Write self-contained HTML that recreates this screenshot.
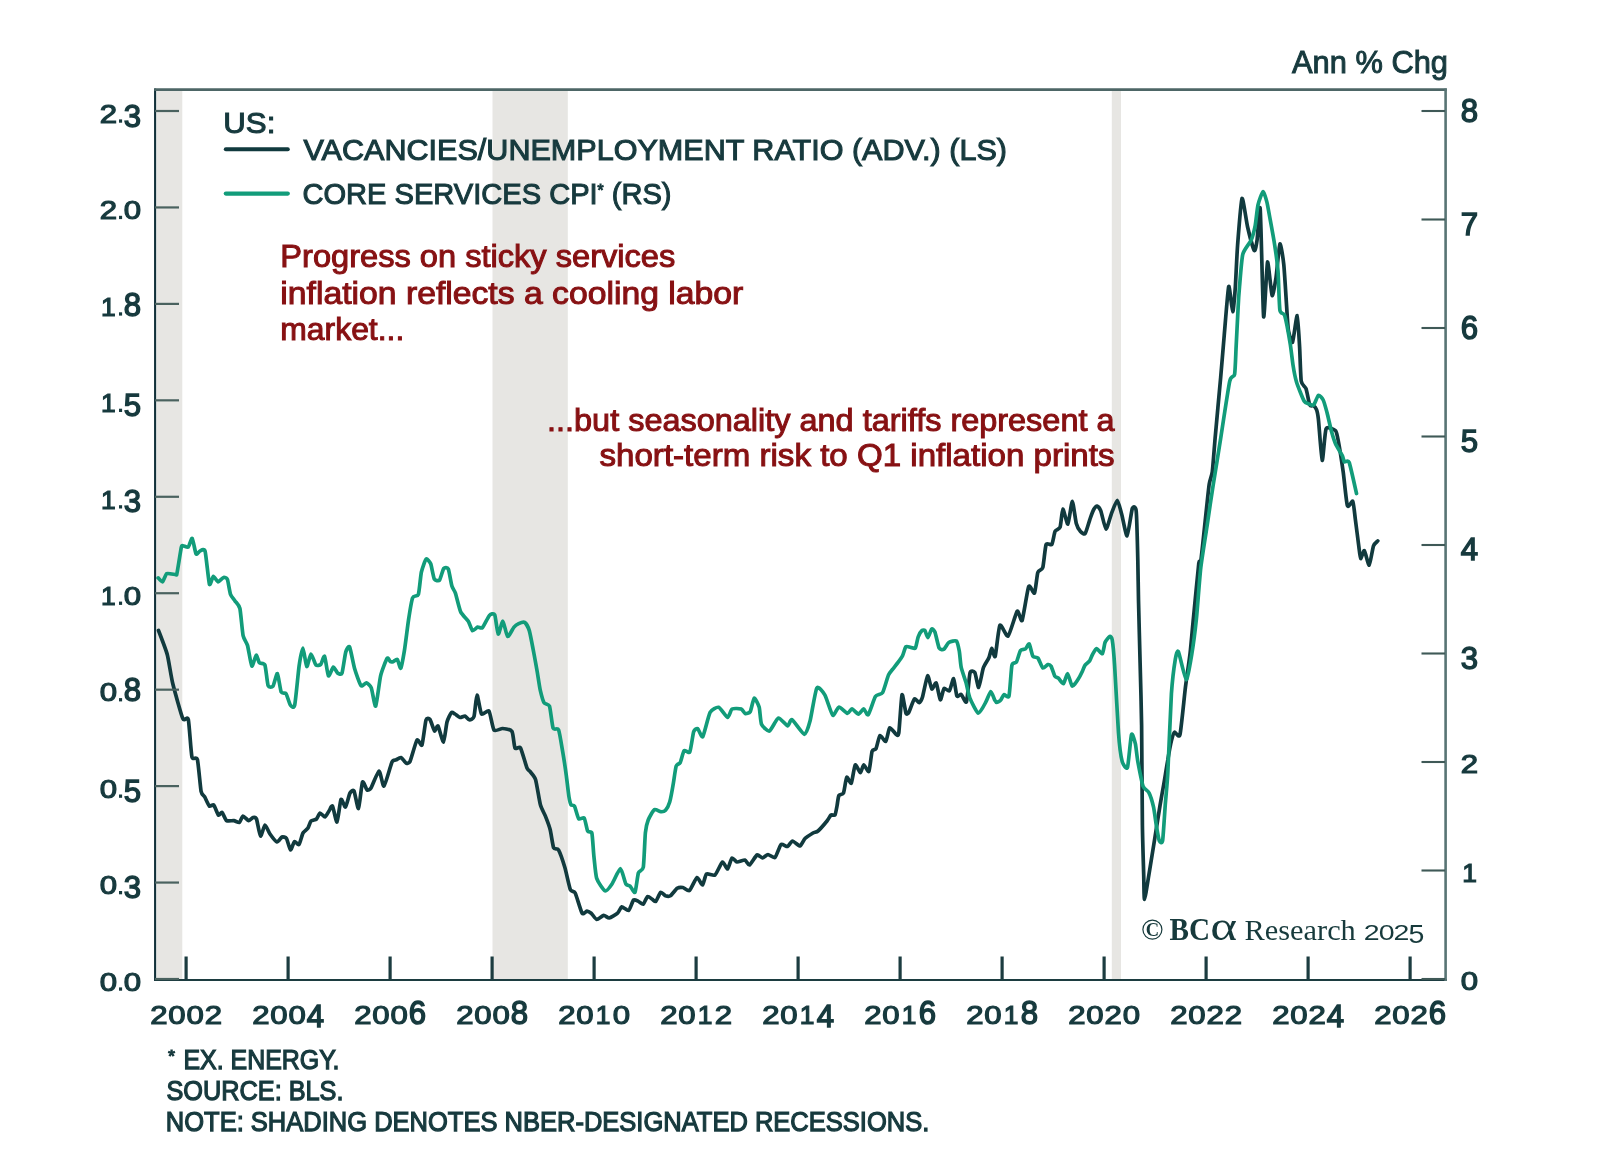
<!DOCTYPE html>
<html><head><meta charset="utf-8"><style>
html,body{margin:0;padding:0;background:#fff;}
body{width:1600px;height:1151px;overflow:hidden;}
svg{display:block;will-change:transform;}
text{font-family:"Liberation Sans",sans-serif;fill:#173a3e;}
.ax{font-size:26.4px;stroke:#173a3e;stroke-width:1.2px;}
.hd{font-size:31.5px;stroke:#173a3e;stroke-width:1.0px;}
.lg{font-size:30px;stroke:#173a3e;stroke-width:1.1px;}
.rd{font-size:30.5px;fill:#871113;stroke:#871113;stroke-width:1.0px;}
.fn{font-size:27px;stroke:#173a3e;stroke-width:1.25px;}
.lo{font-family:"Liberation Serif",serif;font-size:29px;fill:#173a3c;}
.lo2{font-size:21.3px;fill:#173a3c;}
</style></head><body>
<svg width="1600" height="1151" viewBox="0 0 1600 1151">
<rect x="0" y="0" width="1600" height="1151" fill="#ffffff"/>
<rect x="156.5" y="90" width="25.80000000000001" height="889" fill="#e7e6e3"/>
<rect x="492.5" y="90" width="75.29999999999995" height="889" fill="#e7e6e3"/>
<rect x="1111.8" y="90" width="9.200000000000045" height="889" fill="#e7e6e3"/>
<path d="M158.5,630.5 C159.4,632.9 165.9,649.4 167.3,654.7 C168.7,660.0 171.2,677.4 172.8,683.8 C174.4,690.2 181.2,714.9 182.8,718.5 C184.4,722.1 187.4,715.6 188.3,719.4 C189.2,723.2 191.0,752.8 191.9,756.8 C192.8,760.8 196.5,756.0 197.4,759.5 C198.3,763.0 200.4,787.7 201.1,791.4 C201.8,795.1 203.9,795.4 204.7,796.9 C205.5,798.4 208.4,805.2 209.3,806.0 C210.2,806.8 212.9,804.2 213.8,805.1 C214.7,806.0 217.6,814.4 218.4,815.1 C219.2,815.8 221.2,811.9 222.0,812.4 C222.8,812.9 225.4,819.8 226.6,820.6 C227.8,821.4 232.6,820.4 233.9,820.6 C235.2,820.8 238.5,822.9 239.4,822.4 C240.3,821.9 242.1,816.3 243.0,816.1 C243.9,815.9 247.5,820.5 248.5,820.6 C249.5,820.7 252.2,817.7 253.0,817.5 C253.8,817.3 255.8,817.1 256.5,819.0 C257.2,820.9 259.6,835.4 260.5,836.0 C261.4,836.6 264.1,825.2 265.0,825.0 C265.9,824.8 268.8,832.3 270.0,834.0 C271.2,835.7 275.8,841.7 277.0,842.0 C278.2,842.3 281.1,837.4 282.0,837.0 C282.9,836.6 285.6,837.2 286.5,838.5 C287.4,839.8 289.7,849.7 290.5,850.0 C291.3,850.3 293.6,842.0 294.5,841.5 C295.4,841.0 298.1,845.4 299.0,844.5 C299.9,843.6 302.1,834.6 303.0,833.0 C303.9,831.4 307.2,829.2 308.0,828.0 C308.8,826.8 310.1,821.9 311.0,821.0 C311.9,820.1 315.6,819.8 316.5,819.0 C317.4,818.2 319.1,813.2 320.0,813.0 C320.9,812.8 324.1,817.2 325.0,817.0 C325.9,816.8 328.2,812.1 329.0,811.0 C329.8,809.9 331.7,804.9 332.5,806.0 C333.3,807.1 336.1,822.6 337.0,822.0 C337.9,821.4 340.1,801.0 341.0,799.5 C341.9,798.0 344.6,807.6 345.5,807.0 C346.4,806.4 349.1,794.6 350.0,793.0 C350.9,791.4 353.1,789.5 354.0,791.0 C354.9,792.5 357.6,809.4 358.5,808.5 C359.4,807.6 361.6,783.9 362.5,782.0 C363.4,780.1 366.1,789.4 367.0,790.0 C367.9,790.6 369.8,789.9 371.0,788.0 C372.2,786.1 377.7,771.2 379.0,771.0 C380.3,770.8 382.7,786.9 384.0,786.0 C385.3,785.1 390.8,764.6 392.0,762.0 C393.2,759.4 395.1,760.5 396.0,760.0 C396.9,759.5 400.0,757.2 401.0,757.5 C402.0,757.8 405.1,762.6 406.0,763.0 C406.9,763.4 408.9,763.8 410.0,761.5 C411.1,759.2 415.8,741.6 417.0,740.0 C418.2,738.4 421.1,747.0 422.0,745.0 C422.9,743.0 425.2,722.5 426.0,720.0 C426.8,717.5 429.1,718.4 430.0,719.5 C430.9,720.6 433.7,730.4 434.5,731.0 C435.3,731.6 437.1,724.9 438.0,726.0 C438.9,727.1 442.6,742.4 443.5,742.0 C444.4,741.6 446.2,725.0 447.0,722.0 C447.8,719.0 450.7,713.3 451.5,712.5 C452.3,711.7 454.1,713.5 455.0,714.0 C455.9,714.5 459.0,717.3 460.0,717.5 C461.0,717.7 464.1,715.8 465.0,716.0 C465.9,716.2 468.6,720.0 469.5,720.0 C470.4,720.0 473.2,719.0 474.0,716.5 C474.8,714.0 476.2,695.2 477.0,695.0 C477.8,694.8 480.3,712.4 481.5,714.0 C482.7,715.6 487.8,709.4 489.0,711.0 C490.2,712.6 492.6,728.2 494.0,730.0 C495.4,731.8 500.7,728.4 502.5,728.5 C504.3,728.6 510.8,729.5 512.0,731.5 C513.2,733.5 514.1,746.4 515.0,748.0 C515.9,749.6 519.3,746.0 520.5,748.0 C521.7,750.0 526.0,765.7 527.0,768.0 C528.0,770.3 529.1,770.2 530.0,771.4 C530.9,772.6 534.6,776.4 535.6,779.7 C536.6,783.0 539.4,801.2 540.4,804.8 C541.4,808.4 544.3,813.4 545.3,815.9 C546.3,818.4 549.4,826.6 550.2,829.8 C551.0,833.0 552.8,845.8 553.6,847.8 C554.4,849.8 557.4,847.9 558.5,849.9 C559.6,851.9 563.6,863.3 564.8,867.3 C566.0,871.3 569.3,886.9 570.3,889.5 C571.3,892.1 574.0,890.6 575.2,893.0 C576.4,895.4 580.9,911.4 582.1,913.2 C583.3,915.0 586.1,911.1 587.0,911.1 C587.9,911.1 590.2,912.4 591.2,913.2 C592.2,914.0 595.5,919.2 596.7,919.4 C598.0,919.6 602.5,915.4 603.7,915.3 C605.0,915.2 607.8,918.2 609.2,918.0 C610.6,917.8 616.4,914.3 617.6,913.2 C618.9,912.1 620.6,907.2 621.7,906.9 C622.8,906.6 627.5,911.1 628.7,910.4 C629.9,909.7 632.6,900.9 633.6,900.0 C634.6,899.1 637.4,901.0 638.4,901.4 C639.4,901.8 642.4,904.6 643.3,904.1 C644.2,903.6 646.6,897.0 647.5,896.5 C648.4,896.0 651.5,898.8 652.3,899.3 C653.1,899.8 655.0,902.1 655.8,901.4 C656.6,900.7 659.7,892.9 660.7,892.3 C661.7,891.7 664.5,895.4 665.5,895.8 C666.5,896.1 669.2,896.6 670.4,895.8 C671.6,895.0 676.0,889.0 677.3,888.2 C678.5,887.4 681.7,887.3 682.9,887.5 C684.1,887.7 688.1,891.5 689.5,890.5 C690.9,889.5 695.7,878.0 697.0,877.5 C698.3,877.0 701.5,885.4 702.5,885.0 C703.5,884.6 705.2,875.0 706.5,874.0 C707.8,873.0 713.4,876.2 715.0,875.0 C716.6,873.8 721.2,862.6 722.5,862.0 C723.8,861.4 726.5,869.4 727.5,869.0 C728.5,868.6 731.0,858.7 732.0,858.0 C733.0,857.3 735.7,861.8 737.0,862.0 C738.3,862.2 743.8,859.7 745.0,860.0 C746.2,860.3 748.3,865.5 749.5,865.0 C750.7,864.5 755.7,855.7 757.0,855.0 C758.3,854.3 761.4,858.0 762.5,858.0 C763.6,858.0 766.8,854.5 768.0,854.5 C769.2,854.5 773.7,858.5 775.0,857.5 C776.3,856.5 779.8,845.6 781.0,844.5 C782.2,843.4 786.4,846.9 787.5,846.5 C788.6,846.1 791.2,841.0 792.5,841.0 C793.8,841.0 798.8,846.2 800.0,846.0 C801.2,845.8 803.7,839.8 805.0,838.5 C806.3,837.2 811.7,833.8 813.0,833.0 C814.3,832.2 816.6,832.2 818.0,831.0 C819.4,829.8 825.7,822.6 827.0,821.0 C828.3,819.4 830.2,815.6 831.0,815.0 C831.8,814.4 834.4,815.9 835.0,815.0 C835.6,814.1 836.6,808.0 837.0,806.0 C837.4,804.0 838.2,796.8 838.9,795.5 C839.5,794.2 842.7,794.7 843.5,792.9 C844.3,791.1 845.9,778.3 846.7,777.3 C847.5,776.3 850.4,784.3 851.3,783.1 C852.1,781.9 854.3,765.9 855.2,764.9 C856.1,763.9 859.5,772.7 860.4,772.7 C861.2,772.7 862.9,765.0 863.7,764.9 C864.6,764.8 868.1,772.8 868.9,771.4 C869.7,770.0 871.4,753.5 872.1,751.2 C872.8,748.9 875.2,750.2 876.0,748.6 C876.8,747.0 879.0,736.3 880.0,735.6 C881.0,734.9 884.8,742.2 885.8,741.4 C886.8,740.6 888.7,728.5 889.7,727.8 C890.7,727.1 895.3,733.8 896.2,734.3 C897.1,734.8 898.2,737.0 898.8,733.0 C899.4,729.0 901.3,696.8 902.0,694.8 C902.7,692.8 905.3,711.6 906.0,713.3 C906.7,715.0 908.2,713.4 909.0,712.0 C909.8,710.6 913.4,699.8 914.4,698.9 C915.4,698.0 918.4,702.9 919.2,702.7 C920.0,702.5 921.7,699.7 922.5,697.0 C923.3,694.3 926.7,676.6 927.6,675.8 C928.5,675.0 930.9,688.3 931.8,689.0 C932.7,689.7 935.4,681.9 936.2,683.0 C937.1,684.1 939.5,699.2 940.3,699.8 C941.1,700.3 943.1,689.4 944.0,688.5 C944.9,687.6 948.4,691.8 949.4,690.8 C950.4,689.8 952.9,678.1 953.6,678.6 C954.4,679.1 956.1,694.4 956.9,696.0 C957.7,697.6 960.3,693.9 961.3,694.5 C962.3,695.1 965.6,703.9 966.5,701.7 C967.4,699.6 969.2,675.9 970.0,673.0 C970.8,670.1 973.9,671.1 974.8,672.5 C975.7,673.9 977.9,687.9 978.7,687.4 C979.6,686.9 982.3,671.0 983.3,668.0 C984.3,665.0 988.1,659.8 988.9,657.8 C989.7,655.8 991.1,648.4 991.7,648.3 C992.3,648.1 994.4,658.6 995.2,656.3 C996.0,654.0 998.6,627.3 999.9,625.3 C1001.2,623.3 1006.4,637.4 1008.1,636.0 C1009.8,634.6 1015.8,612.9 1017.2,611.3 C1018.6,609.7 1021.0,622.9 1022.1,620.4 C1023.2,617.9 1027.5,589.2 1028.7,586.5 C1029.9,583.8 1033.6,594.5 1034.5,593.1 C1035.4,591.7 1037.0,575.0 1037.8,572.5 C1038.6,570.0 1042.0,570.4 1042.8,567.6 C1043.6,564.8 1045.2,546.8 1046.1,544.5 C1047.0,542.2 1050.9,545.8 1051.8,544.5 C1052.7,543.2 1054.3,533.0 1055.1,531.3 C1055.9,529.6 1059.3,529.3 1060.1,527.1 C1060.9,524.9 1062.1,509.4 1062.9,509.1 C1063.7,508.8 1067.0,524.9 1067.9,524.1 C1068.8,523.3 1071.5,501.5 1072.3,501.4 C1073.1,501.3 1075.5,520.5 1076.3,523.5 C1077.1,526.5 1079.6,530.5 1080.5,531.5 C1081.4,532.5 1084.2,534.9 1085.2,533.5 C1086.2,532.1 1089.5,520.2 1090.4,517.8 C1091.3,515.3 1093.3,510.2 1094.0,509.0 C1094.7,507.8 1096.3,505.8 1097.0,506.0 C1097.7,506.2 1099.9,508.6 1100.8,510.9 C1101.7,513.2 1105.0,528.8 1106.0,529.1 C1107.0,529.4 1110.1,517.2 1111.2,514.3 C1112.3,511.4 1116.2,500.4 1117.3,500.4 C1118.3,500.4 1120.7,510.8 1121.7,514.3 C1122.7,517.8 1126.0,536.4 1127.1,535.8 C1128.2,535.2 1131.4,511.0 1132.3,508.5 C1133.2,506.0 1135.7,506.0 1136.2,511.1 C1136.8,516.2 1137.6,551.1 1137.8,560.0 C1138.0,568.9 1138.3,589.7 1138.5,600.0 C1138.7,610.3 1139.8,650.1 1140.1,662.6 C1140.4,675.1 1141.4,708.9 1141.6,725.2 C1141.8,741.5 1142.2,810.2 1142.4,825.2 C1142.6,840.2 1143.5,867.3 1143.7,874.7 C1143.9,882.1 1144.0,899.5 1144.5,899.5 C1145.0,899.5 1147.9,880.8 1148.9,874.7 C1149.9,868.6 1153.7,845.1 1154.8,838.2 C1155.9,831.3 1159.1,811.1 1160.0,805.6 C1160.9,800.1 1163.1,788.1 1163.9,783.5 C1164.7,778.9 1167.0,764.3 1167.8,760.0 C1168.5,755.7 1170.7,743.6 1171.4,740.8 C1172.1,738.0 1173.6,732.8 1174.5,732.2 C1175.4,731.6 1178.9,739.0 1180.0,734.5 C1181.1,730.0 1184.4,695.7 1185.4,687.6 C1186.4,679.5 1189.3,660.2 1190.1,653.2 C1190.9,646.2 1192.6,626.5 1193.5,617.5 C1194.4,608.5 1198.1,568.9 1198.8,563.3 C1199.5,557.7 1200.1,566.3 1200.8,561.3 C1201.5,556.3 1205.2,521.0 1206.0,513.3 C1206.8,505.6 1208.6,488.4 1209.2,484.2 C1209.8,480.0 1211.7,476.3 1212.3,471.7 C1212.9,467.1 1214.3,447.8 1215.1,438.3 C1215.9,428.9 1219.8,387.5 1220.7,377.2 C1221.6,366.9 1223.4,344.7 1224.2,335.6 C1225.0,326.5 1227.9,288.9 1228.7,286.5 C1229.5,284.1 1232.0,311.4 1232.7,311.7 C1233.4,311.9 1234.7,295.7 1235.2,289.0 C1235.7,282.3 1236.9,254.2 1237.6,245.1 C1238.3,236.0 1241.0,200.3 1242.0,198.5 C1243.0,196.7 1246.4,221.8 1247.6,227.0 C1248.8,232.2 1253.3,249.2 1254.3,250.5 C1255.2,251.8 1256.5,244.1 1257.1,239.9 C1257.7,235.7 1259.5,201.0 1260.2,208.7 C1260.9,216.4 1262.9,311.2 1263.6,316.5 C1264.3,321.8 1266.7,264.2 1267.5,262.1 C1268.3,260.0 1271.2,293.9 1272.1,295.5 C1272.9,297.1 1275.2,282.8 1276.0,277.7 C1276.8,272.6 1279.1,245.3 1279.9,244.0 C1280.7,242.7 1283.0,257.1 1283.8,264.7 C1284.6,272.3 1287.0,313.3 1287.5,320.0 C1288.0,326.7 1288.1,329.1 1288.6,331.3 C1289.1,333.5 1291.6,343.9 1292.5,342.3 C1293.4,340.7 1296.5,315.1 1297.2,315.6 C1297.9,316.1 1299.2,340.4 1299.6,346.9 C1300.0,353.4 1300.6,376.8 1301.2,381.0 C1301.8,385.2 1305.1,386.3 1306.0,388.7 C1306.9,391.1 1309.0,403.3 1309.8,405.0 C1310.6,406.7 1313.0,405.3 1313.7,405.8 C1314.4,406.3 1316.0,408.4 1316.5,409.7 C1317.0,411.0 1317.8,414.1 1318.4,419.2 C1319.0,424.3 1321.4,459.3 1322.2,460.3 C1323.0,461.3 1324.8,431.8 1326.1,428.8 C1327.4,425.8 1334.4,429.4 1335.6,430.7 C1336.8,432.0 1337.7,438.0 1338.5,442.1 C1339.3,446.2 1342.3,465.6 1343.2,472.0 C1344.1,478.4 1346.4,502.8 1347.4,505.7 C1348.4,508.6 1352.0,500.1 1352.8,501.4 C1353.6,502.7 1354.7,514.4 1355.3,519.0 C1355.9,523.6 1358.4,543.0 1358.9,547.0 C1359.4,551.0 1360.2,558.1 1360.7,558.5 C1361.2,558.9 1363.6,549.9 1364.4,550.6 C1365.2,551.3 1368.3,565.7 1369.2,565.2 C1370.1,564.7 1372.6,548.2 1373.5,545.8 C1374.4,543.4 1377.4,541.4 1377.8,540.9" fill="none" stroke="#113a3e" stroke-width="3.7" stroke-linejoin="round" stroke-linecap="round"/>
<path d="M158.2,577.9 C158.6,578.3 161.6,582.2 162.5,581.8 C163.4,581.4 165.5,574.3 166.8,573.6 C168.1,572.9 174.8,574.7 175.8,574.7 C176.8,574.7 176.4,575.9 177.0,573.2 C177.6,570.5 180.7,550.1 181.3,547.4 C181.9,544.7 182.5,545.8 183.2,545.8 C183.9,545.8 187.4,547.7 188.3,547.0 C189.2,546.3 191.4,537.7 192.2,538.4 C193.0,539.1 195.3,552.8 196.1,554.0 C196.9,555.2 199.1,551.2 200.0,550.9 C200.9,550.6 204.2,548.0 205.1,551.3 C206.0,554.6 208.6,581.6 209.4,584.1 C210.2,586.6 212.4,576.5 213.3,576.3 C214.2,576.1 217.0,581.7 218.0,581.8 C219.0,581.9 222.6,577.7 223.5,577.5 C224.4,577.3 226.7,577.7 227.4,579.4 C228.1,581.1 229.7,592.1 230.5,594.3 C231.3,596.4 234.1,599.5 235.0,600.9 C235.9,602.3 239.1,605.0 239.9,608.5 C240.7,612.0 242.3,631.9 243.1,635.6 C243.9,639.3 246.6,642.4 247.5,645.4 C248.4,648.4 250.9,665.0 251.8,666.0 C252.7,667.0 255.4,655.5 256.2,655.2 C257.0,654.9 258.5,661.8 259.4,662.8 C260.3,663.8 264.0,662.7 264.9,665.0 C265.8,667.3 267.3,683.5 268.1,685.6 C268.9,687.7 272.1,687.3 273.0,686.1 C273.9,684.9 276.6,673.0 277.4,673.6 C278.2,674.2 280.3,690.1 281.2,692.1 C282.1,694.1 285.2,692.4 286.1,693.7 C287.0,695.0 289.5,704.0 290.4,705.1 C291.3,706.2 293.8,709.0 294.7,705.1 C295.6,701.2 298.3,671.7 299.1,666.0 C299.9,660.3 302.1,648.0 302.9,648.1 C303.7,648.2 305.9,666.0 306.7,666.6 C307.5,667.2 310.1,654.3 311.0,654.1 C311.9,653.9 314.9,664.0 315.9,665.0 C316.9,666.0 319.9,665.3 320.8,664.4 C321.7,663.5 323.8,655.2 324.6,656.3 C325.4,657.4 327.5,674.7 328.4,675.8 C329.3,676.9 332.4,667.4 333.3,667.1 C334.2,666.8 336.8,672.5 337.7,673.1 C338.6,673.7 341.2,675.2 342.0,673.1 C342.8,671.0 345.0,654.5 345.8,651.9 C346.6,649.3 348.7,645.4 349.6,647.0 C350.5,648.6 353.4,664.3 354.5,668.2 C355.6,672.1 359.8,684.1 361.0,685.6 C362.2,687.1 365.4,682.7 366.4,682.9 C367.4,683.1 370.4,685.5 371.3,687.8 C372.2,690.1 374.8,707.4 375.7,706.2 C376.6,705.0 379.5,680.6 380.6,675.8 C381.7,671.0 386.1,659.8 387.1,658.4 C388.1,657.0 389.7,661.4 390.3,661.7 C390.9,662.0 392.5,661.9 393.2,661.7 C393.9,661.5 396.5,658.8 397.3,659.4 C398.1,660.0 400.1,669.1 400.8,668.2 C401.5,667.3 403.6,655.4 404.4,650.6 C405.2,645.8 407.7,625.4 408.5,620.1 C409.3,614.8 411.6,600.4 412.6,597.8 C413.6,595.2 417.5,596.9 418.4,594.3 C419.3,591.7 420.6,575.5 421.4,572.0 C422.2,568.5 425.2,559.9 426.1,559.1 C427.0,558.3 429.9,561.8 430.7,563.8 C431.5,565.8 433.4,577.4 434.3,579.0 C435.2,580.6 438.6,581.2 439.5,580.2 C440.4,579.2 442.8,569.6 443.7,568.5 C444.6,567.4 447.5,567.2 448.3,569.0 C449.1,570.8 451.2,583.7 451.9,586.1 C452.6,588.5 454.5,590.5 455.4,593.1 C456.3,595.7 459.4,609.1 460.7,611.9 C462.0,614.7 467.1,619.3 468.3,621.2 C469.5,623.1 471.5,630.0 472.4,630.6 C473.3,631.2 476.7,627.4 477.7,627.1 C478.7,626.8 481.2,628.9 482.4,627.7 C483.6,626.5 488.2,616.7 489.4,615.4 C490.6,614.1 493.8,612.9 494.7,614.8 C495.6,616.7 497.4,633.5 498.2,634.1 C499.0,634.7 502.0,621.0 502.9,621.2 C503.8,621.4 506.5,635.9 507.6,636.5 C508.7,637.1 512.9,628.4 514.0,627.1 C515.1,625.8 517.6,624.1 518.7,623.6 C519.8,623.1 523.5,621.7 524.6,622.4 C525.7,623.1 528.3,627.3 529.3,630.6 C530.3,633.9 533.4,650.8 534.2,655.0 C535.0,659.2 536.7,668.7 537.3,672.2 C537.9,675.7 539.6,687.4 540.3,690.4 C541.0,693.4 543.1,701.0 544.0,702.6 C544.9,704.2 548.6,703.7 549.5,706.2 C550.4,708.8 552.2,725.7 553.1,728.1 C554.0,730.5 557.6,727.5 558.6,729.9 C559.6,732.3 562.0,747.8 562.8,752.4 C563.6,757.0 565.7,771.0 566.3,775.5 C566.9,780.0 568.5,794.1 569.0,797.0 C569.5,799.9 570.5,803.9 571.0,804.8 C571.5,805.7 573.7,804.7 574.5,806.1 C575.3,807.5 577.7,817.5 578.7,818.7 C579.7,819.9 583.3,816.8 584.2,818.0 C585.1,819.2 586.9,829.7 587.7,831.2 C588.5,832.7 591.3,830.7 591.9,833.2 C592.5,835.7 593.4,851.7 593.9,856.2 C594.4,860.7 595.6,874.9 596.7,878.4 C597.8,881.9 603.6,890.3 605.1,890.9 C606.6,891.5 610.5,886.2 612.0,884.0 C613.5,881.8 619.0,868.7 620.4,868.7 C621.8,868.7 624.9,882.3 625.9,884.0 C626.9,885.7 629.2,885.3 630.1,886.1 C631.0,886.9 634.2,893.6 635.0,892.3 C635.8,891.0 637.6,875.4 638.4,872.9 C639.2,870.4 642.6,871.3 643.3,867.3 C644.0,863.3 644.9,837.3 645.4,832.6 C645.9,827.9 647.3,822.3 648.2,820.0 C649.1,817.7 653.1,810.4 654.4,809.6 C655.6,808.8 659.6,811.6 660.7,811.7 C661.8,811.8 664.6,811.3 665.5,810.3 C666.4,809.3 668.9,804.7 669.7,802.0 C670.5,799.3 672.8,786.6 673.4,783.0 C674.0,779.4 675.5,768.0 676.2,766.0 C676.9,764.0 679.4,764.1 680.2,762.6 C681.0,761.1 683.1,751.9 684.1,750.8 C685.1,749.7 688.8,753.8 689.8,751.9 C690.8,750.0 692.9,733.9 693.7,731.6 C694.5,729.3 696.8,728.2 697.7,728.7 C698.6,729.2 701.6,738.2 702.8,736.6 C704.0,735.0 708.5,715.3 710.1,712.4 C711.7,709.5 716.9,706.8 718.6,707.3 C720.4,707.8 726.2,717.2 727.6,717.4 C729.0,717.6 730.7,709.8 732.1,709.0 C733.5,708.2 739.9,708.5 741.2,709.0 C742.5,709.5 744.2,713.2 745.1,713.5 C746.0,713.8 749.3,713.3 750.2,711.8 C751.1,710.3 753.3,698.7 754.2,698.2 C755.1,697.8 758.5,704.7 759.2,707.3 C759.9,709.9 760.5,721.8 761.5,724.2 C762.5,726.6 767.7,731.6 769.4,731.0 C771.1,730.4 776.6,718.5 778.4,718.0 C780.2,717.5 786.1,725.7 787.5,725.9 C788.9,726.1 790.3,718.9 792.0,719.7 C793.7,720.6 802.6,734.3 804.4,734.4 C806.2,734.5 808.9,725.4 810.1,720.8 C811.3,716.2 815.3,690.7 816.8,688.1 C818.3,685.5 823.2,692.2 824.8,694.9 C826.4,697.6 831.3,714.0 832.7,715.2 C834.1,716.4 837.5,707.2 839.0,707.0 C840.5,706.8 846.1,713.2 847.4,713.4 C848.7,713.6 850.8,708.8 851.9,708.9 C853.0,709.0 857.3,714.1 858.5,714.1 C859.7,714.1 862.7,708.8 863.7,708.9 C864.7,709.0 867.0,715.9 868.2,714.7 C869.4,713.5 874.0,698.7 875.4,696.5 C876.8,694.3 881.3,694.8 882.6,692.6 C883.9,690.5 887.4,677.4 888.5,675.0 C889.6,672.6 892.4,669.6 893.4,668.3 C894.4,667.0 897.3,663.3 898.2,662.1 C899.1,660.9 901.7,657.4 902.5,655.9 C903.3,654.4 905.0,647.7 905.8,646.8 C906.6,645.9 909.6,647.2 910.6,647.3 C911.6,647.4 914.5,649.2 915.3,648.2 C916.1,647.2 917.5,638.6 918.2,636.8 C918.9,635.0 921.3,631.1 922.0,630.5 C922.7,629.9 924.3,629.8 924.9,630.5 C925.5,631.2 927.1,637.8 927.8,637.7 C928.5,637.6 930.9,629.7 931.6,629.1 C932.3,628.5 934.1,630.1 934.9,632.0 C935.7,633.9 938.3,646.5 939.2,648.2 C940.1,649.9 943.0,649.8 944.0,649.2 C945.0,648.6 947.6,643.3 948.8,642.5 C950.0,641.7 955.4,640.1 956.4,641.0 C957.4,641.9 958.8,648.5 959.3,651.1 C959.8,653.7 960.5,664.1 961.2,667.3 C961.9,670.4 965.1,679.5 966.0,682.6 C966.9,685.7 968.6,694.8 969.8,697.9 C971.0,701.0 976.8,712.8 978.4,713.2 C980.0,713.6 984.8,703.9 986.0,701.7 C987.2,699.5 989.9,691.7 990.8,691.5 C991.7,691.3 994.0,698.7 994.6,699.8 C995.2,700.9 996.0,702.5 996.6,702.5 C997.2,702.5 1000.0,700.9 1000.7,700.1 C1001.4,699.3 1003.2,695.1 1004.0,694.7 C1004.8,694.3 1008.2,698.8 1009.0,695.9 C1009.8,693.0 1011.2,668.8 1011.9,665.4 C1012.6,662.0 1015.5,663.6 1016.4,662.1 C1017.3,660.6 1019.6,651.8 1020.5,650.5 C1021.4,649.2 1024.6,649.6 1025.5,648.9 C1026.4,648.2 1028.5,643.2 1029.2,643.9 C1029.9,644.6 1032.0,654.9 1032.9,656.3 C1033.8,657.7 1036.9,656.8 1037.9,658.0 C1038.9,659.2 1041.8,667.2 1042.8,667.9 C1043.8,668.6 1047.0,664.8 1047.8,664.6 C1048.6,664.4 1050.4,665.1 1051.1,666.2 C1051.8,667.4 1054.1,674.9 1054.8,676.1 C1055.5,677.3 1057.6,677.5 1058.5,678.2 C1059.4,679.0 1062.6,684.1 1063.5,683.6 C1064.4,683.1 1066.7,673.5 1067.6,673.7 C1068.5,673.9 1071.1,685.3 1072.1,686.0 C1073.1,686.7 1076.5,681.8 1077.5,680.3 C1078.5,678.8 1081.7,672.7 1082.4,671.2 C1083.1,669.7 1084.2,666.5 1084.9,665.4 C1085.7,664.3 1089.2,661.5 1089.9,660.4 C1090.7,659.3 1091.7,655.9 1092.4,654.7 C1093.1,653.5 1095.5,648.6 1096.5,648.5 C1097.5,648.4 1101.4,654.4 1102.3,653.8 C1103.2,653.2 1104.4,644.0 1105.1,642.3 C1105.8,640.6 1109.0,636.8 1109.7,636.5 C1110.4,636.2 1111.7,636.9 1112.2,639.8 C1112.7,642.7 1114.0,656.1 1114.6,665.4 C1115.2,674.7 1117.8,723.4 1118.5,733.0 C1119.2,742.6 1121.2,757.7 1122.1,761.1 C1123.0,764.5 1126.6,770.1 1127.5,767.4 C1128.4,764.7 1130.7,736.9 1131.5,734.5 C1132.3,732.1 1134.8,741.2 1135.4,743.9 C1136.0,746.6 1137.0,757.1 1137.8,761.3 C1138.6,765.5 1141.9,783.0 1143.0,786.1 C1144.1,789.2 1147.9,790.5 1148.9,792.6 C1150.0,794.7 1152.7,803.4 1153.5,806.9 C1154.3,810.4 1156.1,824.4 1156.7,827.8 C1157.3,831.2 1158.7,839.5 1159.3,840.8 C1159.9,842.1 1162.0,844.3 1162.6,840.8 C1163.2,837.3 1164.7,812.4 1165.2,805.6 C1165.7,798.8 1167.2,784.2 1167.8,773.0 C1168.4,761.8 1170.7,705.3 1171.4,693.9 C1172.2,682.5 1174.6,663.6 1175.3,659.4 C1176.0,655.2 1177.3,649.6 1178.4,651.6 C1179.5,653.6 1184.9,679.5 1186.2,679.8 C1187.5,680.1 1190.7,660.9 1191.7,654.8 C1192.7,648.7 1195.5,627.5 1196.4,618.8 C1197.3,610.1 1199.7,576.8 1200.8,567.5 C1201.9,558.2 1205.8,534.1 1207.1,525.8 C1208.3,517.5 1211.9,492.9 1213.3,484.2 C1214.7,475.4 1219.1,448.6 1220.7,438.3 C1222.3,428.0 1228.3,387.8 1229.7,381.4 C1231.1,375.0 1234.0,377.6 1234.6,374.4 C1235.2,371.2 1235.7,356.1 1236.0,349.4 C1236.3,342.7 1237.8,314.1 1238.1,307.8 C1238.4,301.5 1239.0,292.2 1239.5,286.8 C1240.0,281.4 1241.6,258.9 1242.8,254.2 C1244.0,249.5 1250.1,242.8 1251.3,239.9 C1252.5,237.0 1254.5,229.1 1255.2,225.6 C1255.9,222.1 1257.2,208.4 1258.0,205.0 C1258.8,201.6 1262.1,192.0 1263.0,191.7 C1263.9,191.4 1266.2,199.4 1266.9,202.1 C1267.6,204.8 1269.3,214.8 1270.1,219.1 C1270.9,223.4 1273.9,239.9 1274.7,245.1 C1275.5,250.3 1277.5,264.7 1278.0,271.2 C1278.5,277.7 1279.2,305.8 1279.9,310.2 C1280.6,314.6 1283.7,312.2 1284.7,315.6 C1285.7,319.0 1289.4,338.9 1290.2,343.8 C1291.0,348.7 1292.4,361.2 1293.0,365.0 C1293.6,368.8 1295.4,378.4 1296.5,382.0 C1297.6,385.6 1302.8,398.8 1304.1,401.0 C1305.3,403.2 1308.0,403.6 1309.0,404.0 C1310.0,404.4 1312.8,405.9 1313.7,405.0 C1314.6,404.1 1317.5,395.8 1318.4,395.3 C1319.4,394.8 1322.3,398.3 1323.2,400.0 C1324.1,401.7 1326.1,409.2 1327.0,412.5 C1327.9,415.8 1330.9,429.5 1331.8,432.6 C1332.7,435.8 1334.5,441.7 1335.6,444.0 C1336.6,446.3 1341.4,453.7 1342.3,455.5 C1343.2,457.3 1343.6,461.2 1344.3,461.9 C1345.0,462.6 1348.0,459.3 1349.2,462.5 C1350.4,465.7 1355.8,490.4 1356.5,493.5" fill="none" stroke="#129c7a" stroke-width="3.7" stroke-linejoin="round" stroke-linecap="round"/>
<line x1="155.1" y1="88.4" x2="155.1" y2="981.1" stroke="#12313a" stroke-width="2.1"/>
<line x1="154.2" y1="980" x2="1446.8" y2="980" stroke="#1c3c40" stroke-width="2.2"/>
<line x1="154.2" y1="89.6" x2="1446.8" y2="89.6" stroke="#4d6666" stroke-width="2.6"/>
<line x1="1445.6" y1="88.4" x2="1445.6" y2="981.1" stroke="#587474" stroke-width="2.6"/>
<line x1="155" y1="979.00" x2="179" y2="979.00" stroke="#4a625f" stroke-width="2.2"/>
<text transform="translate(108.3,990.7) scale(1.18,1.0)" text-anchor="middle" class="ax">0</text>
<rect x="119.0" y="987.4" width="3.1" height="3.3" fill="#173a3e"/>
<text transform="translate(132.5,990.7) scale(1.18,1.0)" text-anchor="middle" class="ax">0</text>
<line x1="155" y1="882.56" x2="179" y2="882.56" stroke="#4a625f" stroke-width="2.2"/>
<text transform="translate(108.3,894.3) scale(1.18,1.0)" text-anchor="middle" class="ax">0</text>
<rect x="119.0" y="891.0" width="3.1" height="3.3" fill="#173a3e"/>
<text transform="translate(132.5,898.1) scale(1.18,1.205)" text-anchor="middle" class="ax">3</text>
<line x1="155" y1="786.11" x2="179" y2="786.11" stroke="#4a625f" stroke-width="2.2"/>
<text transform="translate(108.3,797.8) scale(1.18,1.0)" text-anchor="middle" class="ax">0</text>
<rect x="119.0" y="794.5" width="3.1" height="3.3" fill="#173a3e"/>
<text transform="translate(132.5,801.6) scale(1.18,1.205)" text-anchor="middle" class="ax">5</text>
<line x1="155" y1="689.67" x2="179" y2="689.67" stroke="#4a625f" stroke-width="2.2"/>
<text transform="translate(108.3,701.4) scale(1.18,1.0)" text-anchor="middle" class="ax">0</text>
<rect x="119.0" y="698.1" width="3.1" height="3.3" fill="#173a3e"/>
<text transform="translate(132.5,701.4) scale(1.18,1.227)" text-anchor="middle" class="ax">8</text>
<line x1="155" y1="593.22" x2="179" y2="593.22" stroke="#4a625f" stroke-width="2.2"/>
<text transform="translate(108.3,604.9) scale(1.0,1.0)" text-anchor="middle" class="ax">1</text>
<rect x="119.0" y="601.6" width="3.1" height="3.3" fill="#173a3e"/>
<text transform="translate(132.5,604.9) scale(1.18,1.0)" text-anchor="middle" class="ax">0</text>
<line x1="155" y1="496.78" x2="179" y2="496.78" stroke="#4a625f" stroke-width="2.2"/>
<text transform="translate(108.3,508.5) scale(1.0,1.0)" text-anchor="middle" class="ax">1</text>
<rect x="119.0" y="505.2" width="3.1" height="3.3" fill="#173a3e"/>
<text transform="translate(132.5,512.3) scale(1.18,1.205)" text-anchor="middle" class="ax">3</text>
<line x1="155" y1="400.33" x2="179" y2="400.33" stroke="#4a625f" stroke-width="2.2"/>
<text transform="translate(108.3,412.0) scale(1.0,1.0)" text-anchor="middle" class="ax">1</text>
<rect x="119.0" y="408.7" width="3.1" height="3.3" fill="#173a3e"/>
<text transform="translate(132.5,415.8) scale(1.18,1.205)" text-anchor="middle" class="ax">5</text>
<line x1="155" y1="303.89" x2="179" y2="303.89" stroke="#4a625f" stroke-width="2.2"/>
<text transform="translate(108.3,315.6) scale(1.0,1.0)" text-anchor="middle" class="ax">1</text>
<rect x="119.0" y="312.3" width="3.1" height="3.3" fill="#173a3e"/>
<text transform="translate(132.5,315.6) scale(1.18,1.227)" text-anchor="middle" class="ax">8</text>
<line x1="155" y1="207.44" x2="179" y2="207.44" stroke="#4a625f" stroke-width="2.2"/>
<text transform="translate(108.3,219.1) scale(1.18,1.0)" text-anchor="middle" class="ax">2</text>
<rect x="119.0" y="215.8" width="3.1" height="3.3" fill="#173a3e"/>
<text transform="translate(132.5,219.1) scale(1.18,1.0)" text-anchor="middle" class="ax">0</text>
<line x1="155" y1="111.00" x2="179" y2="111.00" stroke="#4a625f" stroke-width="2.2"/>
<text transform="translate(108.3,122.7) scale(1.18,1.0)" text-anchor="middle" class="ax">2</text>
<rect x="119.0" y="119.4" width="3.1" height="3.3" fill="#173a3e"/>
<text transform="translate(132.5,126.5) scale(1.18,1.205)" text-anchor="middle" class="ax">3</text>
<line x1="1421.5" y1="979.00" x2="1445" y2="979.00" stroke="#3f5957" stroke-width="2.1"/>
<text transform="translate(1469.5,990.2) scale(1.18,1.0)" text-anchor="middle" class="ax">0</text>
<line x1="1421.5" y1="870.50" x2="1445" y2="870.50" stroke="#3f5957" stroke-width="2.1"/>
<text transform="translate(1469.5,881.7) scale(1.0,1.0)" text-anchor="middle" class="ax">1</text>
<line x1="1421.5" y1="762.00" x2="1445" y2="762.00" stroke="#3f5957" stroke-width="2.1"/>
<text transform="translate(1469.5,773.2) scale(1.18,1.0)" text-anchor="middle" class="ax">2</text>
<line x1="1421.5" y1="653.50" x2="1445" y2="653.50" stroke="#3f5957" stroke-width="2.1"/>
<text transform="translate(1469.5,668.5) scale(1.18,1.205)" text-anchor="middle" class="ax">3</text>
<line x1="1421.5" y1="545.00" x2="1445" y2="545.00" stroke="#3f5957" stroke-width="2.1"/>
<text transform="translate(1469.5,560.0) scale(1.18,1.205)" text-anchor="middle" class="ax">4</text>
<line x1="1421.5" y1="436.50" x2="1445" y2="436.50" stroke="#3f5957" stroke-width="2.1"/>
<text transform="translate(1469.5,451.5) scale(1.18,1.205)" text-anchor="middle" class="ax">5</text>
<line x1="1421.5" y1="328.00" x2="1445" y2="328.00" stroke="#3f5957" stroke-width="2.1"/>
<text transform="translate(1469.5,339.2) scale(1.18,1.227)" text-anchor="middle" class="ax">6</text>
<line x1="1421.5" y1="219.50" x2="1445" y2="219.50" stroke="#3f5957" stroke-width="2.1"/>
<text transform="translate(1469.5,234.5) scale(1.18,1.205)" text-anchor="middle" class="ax">7</text>
<line x1="1421.5" y1="111.00" x2="1445" y2="111.00" stroke="#3f5957" stroke-width="2.1"/>
<text transform="translate(1469.5,122.2) scale(1.18,1.227)" text-anchor="middle" class="ax">8</text>
<line x1="186.1" y1="956.5" x2="186.1" y2="979" stroke="#1c3c40" stroke-width="3.2"/>
<text transform="translate(158.9,1023.5) scale(1.18,1.0)" text-anchor="middle" class="ax">2</text>
<text transform="translate(177.0,1023.5) scale(1.18,1.0)" text-anchor="middle" class="ax">0</text>
<text transform="translate(195.2,1023.5) scale(1.18,1.0)" text-anchor="middle" class="ax">0</text>
<text transform="translate(213.3,1023.5) scale(1.18,1.0)" text-anchor="middle" class="ax">2</text>
<line x1="288.1" y1="956.5" x2="288.1" y2="979" stroke="#1c3c40" stroke-width="3.2"/>
<text transform="translate(260.9,1023.5) scale(1.18,1.0)" text-anchor="middle" class="ax">2</text>
<text transform="translate(279.0,1023.5) scale(1.18,1.0)" text-anchor="middle" class="ax">0</text>
<text transform="translate(297.2,1023.5) scale(1.18,1.0)" text-anchor="middle" class="ax">0</text>
<text transform="translate(315.3,1027.3) scale(1.18,1.205)" text-anchor="middle" class="ax">4</text>
<line x1="390.1" y1="956.5" x2="390.1" y2="979" stroke="#1c3c40" stroke-width="3.2"/>
<text transform="translate(362.9,1023.5) scale(1.18,1.0)" text-anchor="middle" class="ax">2</text>
<text transform="translate(381.0,1023.5) scale(1.18,1.0)" text-anchor="middle" class="ax">0</text>
<text transform="translate(399.2,1023.5) scale(1.18,1.0)" text-anchor="middle" class="ax">0</text>
<text transform="translate(417.3,1023.5) scale(1.18,1.227)" text-anchor="middle" class="ax">6</text>
<line x1="492.1" y1="956.5" x2="492.1" y2="979" stroke="#1c3c40" stroke-width="3.2"/>
<text transform="translate(464.9,1023.5) scale(1.18,1.0)" text-anchor="middle" class="ax">2</text>
<text transform="translate(483.0,1023.5) scale(1.18,1.0)" text-anchor="middle" class="ax">0</text>
<text transform="translate(501.2,1023.5) scale(1.18,1.0)" text-anchor="middle" class="ax">0</text>
<text transform="translate(519.3,1023.5) scale(1.18,1.227)" text-anchor="middle" class="ax">8</text>
<line x1="594.1" y1="956.5" x2="594.1" y2="979" stroke="#1c3c40" stroke-width="3.2"/>
<text transform="translate(566.9,1023.5) scale(1.18,1.0)" text-anchor="middle" class="ax">2</text>
<text transform="translate(585.0,1023.5) scale(1.18,1.0)" text-anchor="middle" class="ax">0</text>
<text transform="translate(603.2,1023.5) scale(1.0,1.0)" text-anchor="middle" class="ax">1</text>
<text transform="translate(621.3,1023.5) scale(1.18,1.0)" text-anchor="middle" class="ax">0</text>
<line x1="696.1" y1="956.5" x2="696.1" y2="979" stroke="#1c3c40" stroke-width="3.2"/>
<text transform="translate(668.9,1023.5) scale(1.18,1.0)" text-anchor="middle" class="ax">2</text>
<text transform="translate(687.0,1023.5) scale(1.18,1.0)" text-anchor="middle" class="ax">0</text>
<text transform="translate(705.2,1023.5) scale(1.0,1.0)" text-anchor="middle" class="ax">1</text>
<text transform="translate(723.3,1023.5) scale(1.18,1.0)" text-anchor="middle" class="ax">2</text>
<line x1="798.1" y1="956.5" x2="798.1" y2="979" stroke="#1c3c40" stroke-width="3.2"/>
<text transform="translate(770.9,1023.5) scale(1.18,1.0)" text-anchor="middle" class="ax">2</text>
<text transform="translate(789.0,1023.5) scale(1.18,1.0)" text-anchor="middle" class="ax">0</text>
<text transform="translate(807.2,1023.5) scale(1.0,1.0)" text-anchor="middle" class="ax">1</text>
<text transform="translate(825.3,1027.3) scale(1.18,1.205)" text-anchor="middle" class="ax">4</text>
<line x1="900.1" y1="956.5" x2="900.1" y2="979" stroke="#1c3c40" stroke-width="3.2"/>
<text transform="translate(872.9,1023.5) scale(1.18,1.0)" text-anchor="middle" class="ax">2</text>
<text transform="translate(891.0,1023.5) scale(1.18,1.0)" text-anchor="middle" class="ax">0</text>
<text transform="translate(909.2,1023.5) scale(1.0,1.0)" text-anchor="middle" class="ax">1</text>
<text transform="translate(927.3,1023.5) scale(1.18,1.227)" text-anchor="middle" class="ax">6</text>
<line x1="1002.1" y1="956.5" x2="1002.1" y2="979" stroke="#1c3c40" stroke-width="3.2"/>
<text transform="translate(974.9,1023.5) scale(1.18,1.0)" text-anchor="middle" class="ax">2</text>
<text transform="translate(993.0,1023.5) scale(1.18,1.0)" text-anchor="middle" class="ax">0</text>
<text transform="translate(1011.2,1023.5) scale(1.0,1.0)" text-anchor="middle" class="ax">1</text>
<text transform="translate(1029.3,1023.5) scale(1.18,1.227)" text-anchor="middle" class="ax">8</text>
<line x1="1104.1" y1="956.5" x2="1104.1" y2="979" stroke="#1c3c40" stroke-width="3.2"/>
<text transform="translate(1076.9,1023.5) scale(1.18,1.0)" text-anchor="middle" class="ax">2</text>
<text transform="translate(1095.0,1023.5) scale(1.18,1.0)" text-anchor="middle" class="ax">0</text>
<text transform="translate(1113.2,1023.5) scale(1.18,1.0)" text-anchor="middle" class="ax">2</text>
<text transform="translate(1131.3,1023.5) scale(1.18,1.0)" text-anchor="middle" class="ax">0</text>
<line x1="1206.1" y1="956.5" x2="1206.1" y2="979" stroke="#1c3c40" stroke-width="3.2"/>
<text transform="translate(1178.9,1023.5) scale(1.18,1.0)" text-anchor="middle" class="ax">2</text>
<text transform="translate(1197.0,1023.5) scale(1.18,1.0)" text-anchor="middle" class="ax">0</text>
<text transform="translate(1215.2,1023.5) scale(1.18,1.0)" text-anchor="middle" class="ax">2</text>
<text transform="translate(1233.3,1023.5) scale(1.18,1.0)" text-anchor="middle" class="ax">2</text>
<line x1="1308.1" y1="956.5" x2="1308.1" y2="979" stroke="#1c3c40" stroke-width="3.2"/>
<text transform="translate(1280.9,1023.5) scale(1.18,1.0)" text-anchor="middle" class="ax">2</text>
<text transform="translate(1299.0,1023.5) scale(1.18,1.0)" text-anchor="middle" class="ax">0</text>
<text transform="translate(1317.2,1023.5) scale(1.18,1.0)" text-anchor="middle" class="ax">2</text>
<text transform="translate(1335.3,1027.3) scale(1.18,1.205)" text-anchor="middle" class="ax">4</text>
<line x1="1410.1" y1="956.5" x2="1410.1" y2="979" stroke="#1c3c40" stroke-width="3.2"/>
<text transform="translate(1382.9,1023.5) scale(1.18,1.0)" text-anchor="middle" class="ax">2</text>
<text transform="translate(1401.0,1023.5) scale(1.18,1.0)" text-anchor="middle" class="ax">0</text>
<text transform="translate(1419.2,1023.5) scale(1.18,1.0)" text-anchor="middle" class="ax">2</text>
<text transform="translate(1437.3,1023.5) scale(1.18,1.227)" text-anchor="middle" class="ax">6</text>
<text x="1448" y="72.6" text-anchor="end" class="hd" textLength="156" lengthAdjust="spacingAndGlyphs">Ann % Chg</text>
<text x="223.3" y="132.5" class="lg" textLength="52" lengthAdjust="spacingAndGlyphs">US:</text>
<line x1="225.8" y1="149.3" x2="287.8" y2="149.3" stroke="#113a3e" stroke-width="4.0" stroke-linecap="round"/>
<text x="303.5" y="159.5" class="lg" textLength="703.5" lengthAdjust="spacingAndGlyphs">VACANCIES/UNEMPLOYMENT RATIO (ADV.) (LS)</text>
<line x1="225.8" y1="193.6" x2="287.8" y2="193.6" stroke="#129c7a" stroke-width="4.2" stroke-linecap="round"/>
<text x="302.5" y="204" class="lg" textLength="369" lengthAdjust="spacingAndGlyphs">CORE SERVICES CPI<tspan dy="-8" font-size="16">*</tspan><tspan dy="8"> (RS)</tspan></text>
<text x="280.3" y="267" class="rd" textLength="395" lengthAdjust="spacingAndGlyphs">Progress on sticky services</text>
<text x="280.3" y="303.5" class="rd" textLength="463" lengthAdjust="spacingAndGlyphs">inflation reflects a cooling labor</text>
<text x="280.3" y="339.5" class="rd" textLength="124" lengthAdjust="spacingAndGlyphs">market...</text>
<text x="1114.5" y="430.5" text-anchor="end" class="rd" textLength="567.5" lengthAdjust="spacingAndGlyphs">...but seasonality and tariffs represent a</text>
<text x="1114.5" y="466" text-anchor="end" class="rd" textLength="515" lengthAdjust="spacingAndGlyphs">short-term risk to Q1 inflation prints</text>
<text x="168.3" y="1061.9" style="font-size:17px" class="fn">*</text>
<text x="183.5" y="1068.6" class="fn" textLength="156" lengthAdjust="spacingAndGlyphs">EX. ENERGY.</text>
<text x="166.5" y="1099.9" class="fn" textLength="177" lengthAdjust="spacingAndGlyphs">SOURCE: BLS.</text>
<text x="165.8" y="1131.3" class="fn" textLength="763.5" lengthAdjust="spacingAndGlyphs">NOTE: SHADING DENOTES NBER-DESIGNATED RECESSIONS.</text>
<circle cx="1152.4" cy="929.6" r="9.5" fill="none" stroke="#173a3c" stroke-width="1.2"/>
<text x="1152.5" y="935.8" text-anchor="middle" class="lo" style="font-size:18.5px;font-weight:bold">C</text>
<text x="1169.5" y="940" class="lo" style="font-size:30.5px;font-weight:bold" textLength="40.5" lengthAdjust="spacingAndGlyphs">BC</text>
<text transform="translate(1210.3,940) scale(1.68,1.38)" class="lo" style="font-size:30.5px">&#945;</text>
<text x="1244.5" y="939.7" class="lo" style="font-size:29.7px" textLength="111.3" lengthAdjust="spacingAndGlyphs">Research</text>
<text transform="translate(1371.8,939.7) scale(1.34,1)" text-anchor="middle" class="lo2">2</text>
<text transform="translate(1386.7,939.7) scale(1.34,1)" text-anchor="middle" class="lo2">0</text>
<text transform="translate(1401.5,939.7) scale(1.34,1)" text-anchor="middle" class="lo2">2</text>
<text transform="translate(1416.4,943.3000000000001) scale(1.34,1.24)" text-anchor="middle" class="lo2">5</text>
</svg>
</body></html>
